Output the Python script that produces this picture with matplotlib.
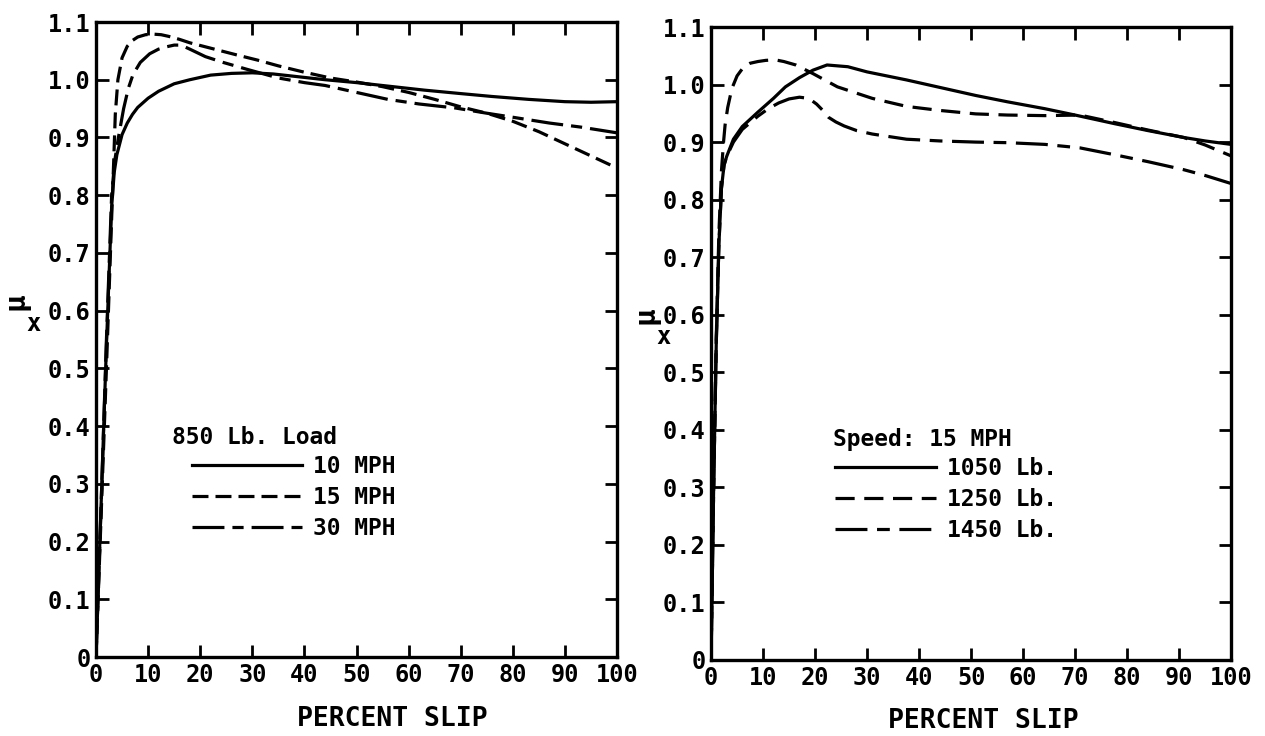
import matplotlib
matplotlib.use("Agg")
import matplotlib.pyplot as plt
import numpy as np

plt.rcParams["font.family"] = ["DejaVu Sans Mono"]
plt.rcParams["font.weight"] = "bold"
plt.rcParams["axes.labelweight"] = "bold"

# --- left panel: 850 Lb. load, three speeds ---
l10_x = [0, 1, 2, 3, 3.5, 4, 5, 6, 7, 8, 10, 12, 15, 18, 22, 26, 30, 34, 38, 44,
         50, 56, 63, 70, 76, 83, 90, 95, 100]
l10_y = [0, 0.27, 0.54, 0.78, 0.84, 0.87, 0.905, 0.925, 0.94, 0.952, 0.968, 0.98,
         0.993, 1.0, 1.008, 1.011, 1.012, 1.01, 1.006, 1.0, 0.995, 0.989, 0.982,
         0.976, 0.971, 0.966, 0.962, 0.961, 0.962]

l15_x = [0, 1, 2, 3, 3.4, 3.7, 4.2, 5, 6, 7, 8, 9.5, 11, 12.5, 14, 16, 18, 21, 24,
         27, 31, 35, 40, 45, 50, 55, 60, 65, 70, 75, 80, 85, 90, 95, 100]
l15_y = [0, 0.25, 0.5, 0.76, 0.86, 0.94, 1.0, 1.038, 1.058, 1.068, 1.074, 1.078,
         1.079, 1.078, 1.075, 1.07, 1.064, 1.057, 1.05, 1.043, 1.034, 1.024, 1.013,
         1.003, 0.996, 0.988, 0.978, 0.966, 0.953, 0.942, 0.928, 0.91, 0.889,
         0.868, 0.847]

l30_x = [0, 1, 2, 3, 3.6, 4.3, 5.3, 6.2, 7.1, 8.5, 10.3, 12, 13.5, 15, 16.3, 18,
         21, 24.4, 29, 35, 40, 44, 50, 56, 62, 69, 75, 80, 87, 93, 100]
l30_y = [0, 0.27, 0.55, 0.8, 0.86, 0.9, 0.95, 0.985, 1.009, 1.03, 1.045, 1.053,
         1.057, 1.06, 1.06, 1.053, 1.04, 1.03, 1.018, 1.003, 0.995, 0.99, 0.978,
         0.966, 0.958, 0.951, 0.942, 0.935, 0.925, 0.918, 0.908]

# --- right panel: 15 MPH, three loads ---
r1050_x = [0, 0.5, 1, 1.5, 2, 2.5, 3, 4.3, 6, 9, 12, 14.3, 17, 19.6, 22.3, 26.3,
           30, 37.6, 44, 50.9, 57, 64.2, 70, 77.6, 84, 90.9, 95, 100]
r1050_y = [0, 0.3, 0.55, 0.72, 0.82, 0.86, 0.875, 0.905, 0.927, 0.952, 0.976,
           0.996, 1.012, 1.025, 1.034, 1.031, 1.022, 1.008, 0.995, 0.981, 0.97,
           0.958, 0.947, 0.932, 0.92, 0.908, 0.902, 0.896]

r1250_x = [0, 0.5, 1, 1.5, 2, 2.4, 2.7, 3.2, 4, 5, 6.3, 7.5, 9, 10.5, 12.3, 14,
           16.3, 19.6, 24.3, 31, 37.6, 44, 50.9, 57, 64.2, 70.9, 77.6, 84, 90.9,
           95, 100]
r1250_y = [0, 0.3, 0.56, 0.74, 0.85, 0.9, 0.93, 0.96, 0.993, 1.015, 1.031, 1.037,
           1.04, 1.042, 1.043, 1.04, 1.034, 1.019, 0.996, 0.976, 0.962, 0.955,
           0.949, 0.947, 0.946, 0.947, 0.934, 0.921, 0.908, 0.895, 0.876]

r1450_x = [0, 0.5, 1, 1.5, 2, 2.5, 3, 4.3, 6, 9, 11, 13, 15, 17, 18.8, 20.3, 21.5,
           22.6, 24, 25.6, 28, 31, 37.6, 44, 50.9, 57, 64.2, 70.9, 77.6, 84, 90.9,
           95, 100]
r1450_y = [0, 0.3, 0.55, 0.72, 0.82, 0.86, 0.875, 0.9, 0.922, 0.945, 0.958, 0.968,
           0.975, 0.978, 0.976, 0.966, 0.955, 0.943, 0.935, 0.928, 0.92, 0.914,
           0.905, 0.902, 0.9, 0.899, 0.896, 0.89, 0.878, 0.866, 0.852, 0.842, 0.828]

x_ticks = list(range(0, 101, 10))
y_ticks = [0, 0.1, 0.2, 0.3, 0.4, 0.5, 0.6, 0.7, 0.8, 0.9, 1.0, 1.1]
y_ticklabels = ["0", "0.1", "0.2", "0.3", "0.4", "0.5", "0.6", "0.7", "0.8",
                "0.9", "1.0", "1.1"]

LW = 2.3
solid = "-"
dashed = (0, (5, 2.2))
dashdash = (0, (10, 2.5, 3.5, 2.5))
FS = 17

fig = plt.figure(figsize=(12.65, 7.36), dpi=100)
ax1 = fig.add_axes([0.0759, 0.1073, 0.4119, 0.8628])
ax2 = fig.add_axes([0.5621, 0.1033, 0.4111, 0.8600])


def style(ax, xlab_x, ylab_x, ylab_y):
    ax.set_xlim(0, 100)
    ax.set_ylim(0, 1.1)
    ax.set_xticks(x_ticks)
    ax.set_xticklabels([str(t) for t in x_ticks], fontsize=FS)
    ax.set_yticks(y_ticks)
    ax.set_yticklabels(y_ticklabels, fontsize=FS)
    ax.tick_params(direction="in", length=9, width=2, top=True, right=True, pad=4)
    for s in ax.spines.values():
        s.set_linewidth(2.4)
    ax.set_xlabel("PERCENT SLIP", fontsize=19, va="center")
    ax.xaxis.set_label_coords(xlab_x, -0.097)
    ax.text(ylab_x, ylab_y, "\u03bc", transform=ax.transAxes, rotation=90,
            fontsize=21, ha="center", va="center")
    ax.text(ylab_x + 0.035, ylab_y - 0.035, "x", transform=ax.transAxes,
            fontsize=17, ha="center", va="center")


ax1.plot(l10_x, l10_y, color="black", lw=LW, ls=solid, label="10 MPH")
ax1.plot(l15_x, l15_y, color="black", lw=LW, ls=dashed, label="15 MPH")
ax1.plot(l30_x, l30_y, color="black", lw=LW, ls=dashdash, label="30 MPH")
style(ax1, 0.568, -0.155, 0.56)
ax1.text(0.146, 0.346, "850 Lb. Load", transform=ax1.transAxes, fontsize=16.5,
         ha="left", va="center")
ax1.legend(loc="upper left", bbox_to_anchor=(0.184, 0.318), frameon=False,
           prop={"size": 16.5, "weight": "bold"}, handlelength=4.8,
           handletextpad=0.5, labelspacing=0.34, borderpad=0, borderaxespad=0)

ax2.plot(r1050_x, r1050_y, color="black", lw=LW, ls=solid, label="1050 Lb.")
ax2.plot(r1250_x, r1250_y, color="black", lw=LW, ls=(0, (6, 3)), label="1250 Lb.")
ax2.plot(r1450_x, r1450_y, color="black", lw=LW, ls=(0, (10, 3, 4, 3)), label="1450 Lb.")
style(ax2, 0.523, -0.127, 0.545)
ax2.text(0.235, 0.348, "Speed: 15 MPH", transform=ax2.transAxes, fontsize=16.5,
         ha="left", va="center")
ax2.legend(loc="upper left", bbox_to_anchor=(0.238, 0.32), frameon=False,
           prop={"size": 16.5, "weight": "bold"}, handlelength=4.4,
           handletextpad=0.5, labelspacing=0.34, borderpad=0, borderaxespad=0)

fig.savefig("out.png", dpi=100)
